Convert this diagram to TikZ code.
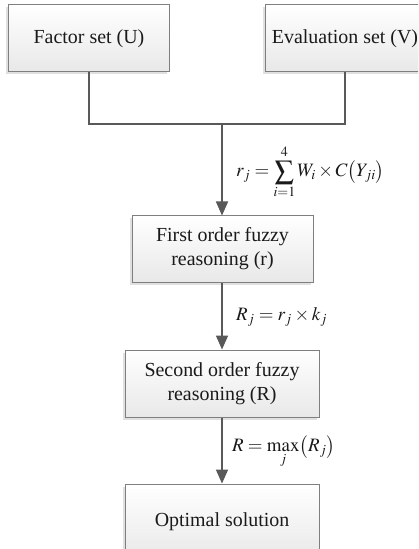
\documentclass[tikz,border=0pt]{standalone}
\usepackage{mathptmx}
\usepackage{fontspec}
\setmainfont{Liberation Serif}
\newfontfamily\boxfont{Liberation Serif}
\usetikzlibrary{arrows.meta,shadows}
\definecolor{boxborder}{HTML}{7F7F7F}
\definecolor{linecol}{HTML}{595959}
\definecolor{txtcol}{HTML}{1A1A1A}
\begin{document}
\begin{tikzpicture}[x=1bp,y=-1bp,
  box/.style={draw=boxborder,line width=1bp,top color=white,bottom color=black!9,
    drop shadow={shadow xshift=-2.5bp,shadow yshift=-2.5bp,opacity=0.12,fill=black},
    text=txtcol,align=center,inner sep=0pt,
    font=\boxfont\fontsize{20}{24}\selectfont},
  conn/.style={draw=linecol,line width=1.7bp},
  arr/.style={conn,-{Triangle[length=14bp,width=12bp]}},
  lab/.style={anchor=west,text=txtcol,inner sep=0pt,font=\fontsize{19}{23}\selectfont}]
\clip (0,0) rectangle (418,549);
\fill[white] (0,0) rectangle (418,549);
\node[box,minimum width=160bp,minimum height=67bp] (b1) at (89,38.5) {Factor set (U)};
\node[box,minimum width=160bp,minimum height=67bp] (b2) at (345,38.5) {Evaluation set (V)};
\node[box,minimum width=181bp,minimum height=66bp] (b3) at (222.5,249) {First order fuzzy\\reasoning (r)};
\node[box,minimum width=194bp,minimum height=67bp] (b4) at (222,383.5) {Second order fuzzy\\reasoning (R)};
\node[box,minimum width=194bp,minimum height=76bp] (b5) at (222,522) {Optimal solution};
\coordinate (j) at (222,124);
\draw[conn] (b1.south) |- (j);
\draw[conn] (b2.south) |- (j);
\draw[arr] (j) -- (b3.north -| j);
\draw[arr] (b3.south -| j) -- (b4.north -| j);
\draw[arr] (b4.south -| j) -- (b5.north -| j);
\node[lab] (l1) at (236,172) {$\displaystyle r_j=\sum_{i=1}^{4}W_i\times C\bigl(Y_{ji}\bigr)$};
\node[lab] (l2) at (236,317) {$R_j=r_j\times k_j$};
\node[lab] (l3) at (232,452) {$\displaystyle R=\max_{j}\bigl(R_j\bigr)$};
\end{tikzpicture}
\end{document}
